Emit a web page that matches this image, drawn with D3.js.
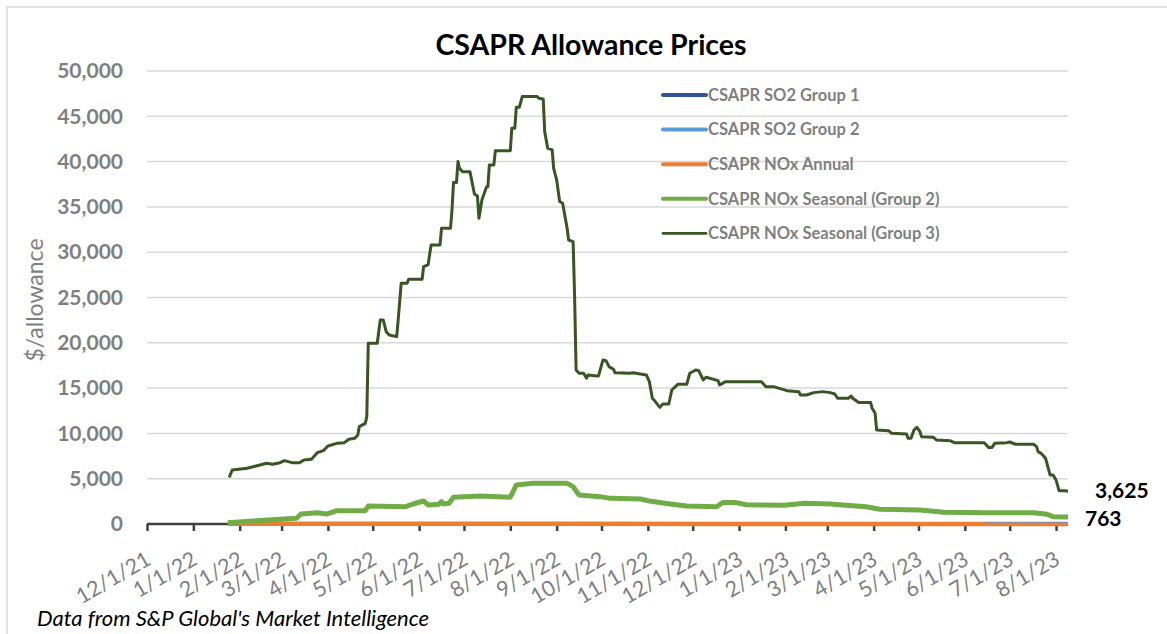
<!DOCTYPE html>
<html>
<head>
<meta charset="utf-8">
<script src="https://cdn.jsdelivr.net/npm/d3@7"></script>
<style>
  html, body { margin: 0; padding: 0; background: #fff; }
  svg { display: block; font-family: Lato, "Open Sans", sans-serif; }
</style>
</head>
<body>
<svg id="chart" width="1167" height="634"></svg>
<script>
// ---------------- DATA ----------------
const title = "CSAPR Allowance Prices";
const yAxisTitle = "$/allowance";
const footnote = "Data from S&P Global's Market Intelligence";
const seriesNames = ["CSAPR SO2 Group 1", "CSAPR SO2 Group 2", "CSAPR NOx Annual",
                     "CSAPR NOx Seasonal (Group 2)", "CSAPR NOx Seasonal (Group 3)"];
const yTicks = [0, 5000, 10000, 15000, 20000, 25000, 30000, 35000, 40000, 45000, 50000];
const xTickLabels = ["12/1/21","1/1/22","2/1/22","3/1/22","4/1/22","5/1/22","6/1/22","7/1/22",
                     "8/1/22","9/1/22","10/1/22","11/1/22","12/1/22","1/1/23","2/1/23","3/1/23",
                     "4/1/23","5/1/23","6/1/23","7/1/23","8/1/23"];
const endLabels = ["3,625", "763"];

// CSAPR SO2 Group 1
const so2g1Dates = ["2023-06-14","2023-07-01","2023-07-20","2023-08-09"];
const so2g1Values = [70, 70, 70, 70];
// CSAPR SO2 Group 2
const so2g2Dates = ["2023-06-14","2023-07-01","2023-07-20","2023-08-09"];
const so2g2Values = [75, 75, 75, 75];
// CSAPR NOx Annual
const noxAnnDates = ["2022-01-24","2022-05-01","2022-09-01","2023-01-01","2023-05-01","2023-08-09"];
const noxAnnValues = [15, 14, 14, 12, 10, 10];
// CSAPR NOx Seasonal (Group 2)
const g2Dates = ["2022-01-24","2022-02-03","2022-02-12","2022-02-28","2022-03-11","2022-03-14","2022-03-25",
  "2022-03-31","2022-04-07","2022-04-26","2022-04-28","2022-05-23","2022-05-28","2022-06-04","2022-06-07",
  "2022-06-14","2022-06-16","2022-06-17","2022-06-21","2022-06-24","2022-07-12","2022-08-01","2022-08-05",
  "2022-08-16","2022-09-08","2022-09-12","2022-09-16","2022-09-30","2022-10-07","2022-10-27","2022-11-02",
  "2022-11-16","2022-11-27","2022-12-17","2022-12-21","2022-12-30","2023-01-06","2023-01-31","2023-02-14",
  "2023-03-03","2023-03-18","2023-03-27","2023-04-05","2023-05-02","2023-05-18","2023-06-16","2023-07-17",
  "2023-07-26","2023-07-30","2023-08-09"];
const g2Values = [150,250,360,520,630,1100,1250,1100,1470,1470,1990,1910,2210,2540,2100,2180,2460,2210,2290,
  2950,3090,2950,4310,4490,4490,4120,3200,3020,2830,2760,2540,2210,1990,1910,2360,2360,2130,2060,2290,2210,
  2020,1910,1620,1550,1290,1250,1250,1070,810,763];
// CSAPR NOx Seasonal (Group 3)
const g3Dates = ["2022-01-25","2022-01-27","2022-02-06","2022-02-12","2022-02-19","2022-02-23","2022-02-28",
  "2022-03-03","2022-03-08","2022-03-13","2022-03-16","2022-03-21","2022-03-25","2022-03-29","2022-04-01",
  "2022-04-07","2022-04-12","2022-04-15","2022-04-19","2022-04-21","2022-04-22","2022-04-26","2022-04-27",
  "2022-04-28","2022-05-04","2022-05-06","2022-05-08","2022-05-10","2022-05-12","2022-05-17","2022-05-18",
  "2022-05-20","2022-05-24","2022-05-25","2022-06-03","2022-06-04","2022-06-07","2022-06-09","2022-06-15",
  "2022-06-16","2022-06-22","2022-06-23","2022-06-24","2022-06-26","2022-06-27","2022-06-28","2022-06-30",
  "2022-07-05","2022-07-08","2022-07-10","2022-07-11","2022-07-13","2022-07-16","2022-07-17","2022-07-18",
  "2022-07-21","2022-07-22","2022-08-01","2022-08-02","2022-08-04","2022-08-05","2022-08-07","2022-08-09",
  "2022-08-19","2022-08-20","2022-08-23","2022-08-24","2022-08-26","2022-08-29","2022-08-30","2022-09-01",
  "2022-09-03","2022-09-05","2022-09-08","2022-09-09","2022-09-12","2022-09-13","2022-09-14","2022-09-16",
  "2022-09-19","2022-09-21","2022-09-22","2022-09-28","2022-09-29","2022-10-02","2022-10-04","2022-10-06",
  "2022-10-09","2022-10-10","2022-10-20","2022-10-22","2022-10-27","2022-10-31","2022-11-02","2022-11-04",
  "2022-11-06","2022-11-09","2022-11-11","2022-11-15","2022-11-17","2022-11-21","2022-11-27","2022-11-29",
  "2022-12-03","2022-12-05","2022-12-08","2022-12-10","2022-12-18","2022-12-19","2022-12-23","2023-01-16",
  "2023-01-19","2023-01-24","2023-02-02","2023-02-10","2023-02-11","2023-02-15","2023-02-20","2023-02-26",
  "2023-03-03","2023-03-06","2023-03-08","2023-03-15","2023-03-17","2023-03-18","2023-03-22","2023-03-30",
  "2023-03-31","2023-04-02","2023-04-03","2023-04-11","2023-04-13","2023-04-23","2023-04-24","2023-04-26",
  "2023-04-28","2023-04-30","2023-05-02","2023-05-03","2023-05-11","2023-05-13","2023-05-22","2023-05-25",
  "2023-06-14","2023-06-17","2023-06-19","2023-06-21","2023-06-29","2023-07-01","2023-07-05","2023-07-17",
  "2023-07-19","2023-07-20","2023-07-22","2023-07-25","2023-07-28","2023-07-30","2023-08-01","2023-08-03",
  "2023-08-07","2023-08-09"];
const g3Values = [5150,5960,6150,6400,6700,6590,6770,6990,6770,6770,7070,7140,7880,8100,8610,8900,8980,9350,
  9460,9830,10750,11110,11850,19950,19950,22520,22520,21230,20870,20680,22520,26570,26570,27020,27020,28410,
  28600,30800,30800,32650,32650,34670,37680,37680,40000,39260,38890,38890,36430,36210,33750,35770,37170,37240,
  39630,39630,41210,41210,43680,43680,46000,46000,47180,47180,47000,46920,43310,41480,41290,39260,37970,35590,
  35400,32650,31350,31170,25090,17000,16640,16640,16090,16450,16340,16340,18110,18030,17370,17080,16700,16640,
  16700,16560,16450,15710,13870,13510,12880,13250,13250,14790,15420,15420,16640,17000,16930,15900,16200,15820,
  15350,15710,15710,15160,15160,14720,14610,14240,14240,14500,14610,14500,14350,13870,13870,14130,13870,13400,
  13400,12770,12220,10380,10300,10010,9940,9460,9460,10380,10670,10190,9640,9570,9270,9200,8980,8980,8430,8430,
  8900,8980,9050,8800,8800,8540,7990,7800,7250,5410,5410,4860,3680,3680,3625];

// ---------------- CHART ----------------
const parse = d3.timeParse("%Y-%m-%d");
const zip = (ds, vs) => ds.map((d, i) => ({ date: parse(d), value: vs[i] }));

const svg = d3.select("#chart");
const W = 1167, H = 634;
const plot = { left: 147, right: 1068, top: 71, bottom: 524 };

// outer border
svg.append("rect").attr("x", 7).attr("y", 7).attr("width", W + 20).attr("height", H + 20)
  .attr("fill", "none").attr("stroke", "#d9d9d9").attr("stroke-width", 1.5);

const x = d3.scaleTime()
  .domain([parse("2021-12-01"), parse("2023-08-09")])
  .range([plot.left, plot.right]);
const y = d3.scaleLinear().domain([0, 50000]).range([plot.bottom, plot.top]);

const grey = "#7f7f7f";

// gridlines
svg.append("g").selectAll("line").data(yTicks.filter(v => v > 0)).join("line")
  .attr("x1", plot.left).attr("x2", plot.right)
  .attr("y1", d => y(d)).attr("y2", d => y(d))
  .attr("stroke", "#d9d9d9").attr("stroke-width", 1.5);

// y axis labels
const yAxis = d3.axisLeft(y).tickValues(yTicks).tickSize(0).tickPadding(24)
  .tickFormat(d3.format(","));
const yG = svg.append("g").attr("transform", `translate(${plot.left},0)`).call(yAxis);
yG.select(".domain").remove();
yG.selectAll("text").attr("font-family", "Lato, sans-serif").attr("font-size", 21)
  .attr("font-weight", "bold").attr("fill", grey);

// x axis
const monthTicks = d3.timeMonth.range(parse("2021-12-01"), parse("2023-08-02"));
const xAxis = d3.axisBottom(x).tickValues(monthTicks).tickSize(7).tickPadding(4)
  .tickFormat((d, i) => xTickLabels[i]);
const xG = svg.append("g").attr("transform", `translate(0,${plot.bottom})`).call(xAxis);
xG.select(".domain").attr("stroke", "#404040").attr("stroke-width", 2.5)
  .attr("d", `M${plot.left},0H${plot.right}`);
xG.selectAll(".tick line").attr("stroke", "#404040").attr("stroke-width", 2.5);
xG.selectAll(".tick text")
  .attr("font-family", "Lato, sans-serif").attr("font-size", 21.5).attr("fill", grey)
  .attr("text-anchor", "end").attr("dy", "0.35em")
  .attr("transform", "translate(1,33) rotate(-30)")
  .attr("y", 0).attr("x", 0);

// lines
const line = d3.line().x(d => x(d.date)).y(d => y(d.value));
const series = [
  { name: seriesNames[2], data: zip(noxAnnDates, noxAnnValues), color: "#ED7D31", w: 4.5 },
  { name: seriesNames[0], data: zip(so2g1Dates, so2g1Values), color: "#2F5597", w: 1.5 },
  { name: seriesNames[1], data: zip(so2g2Dates, so2g2Values), color: "#8E9CC8", w: 1.5 },
  { name: seriesNames[3], data: zip(g2Dates, g2Values), color: "#70AD47", w: 5 },
  { name: seriesNames[4], data: zip(g3Dates, g3Values), color: "#375623", w: 3 }
];
svg.append("g").selectAll("path").data(series).join("path")
  .attr("d", d => line(d.data)).attr("fill", "none")
  .attr("stroke", d => d.color).attr("stroke-width", d => d.w)
  .attr("stroke-linejoin", "round");

// title
svg.append("text").attr("x", 591).attr("y", 55).attr("text-anchor", "middle")
  .attr("font-family", "Lato, sans-serif").attr("font-size", 28.5).attr("font-weight", "bold")
  .attr("fill", "#000").text(title);

// y-axis title
svg.append("text").attr("transform", "translate(43,300) rotate(-90)").attr("text-anchor", "middle")
  .attr("font-family", "Lato, sans-serif").attr("font-size", 23).attr("fill", grey).text(yAxisTitle);

// legend
const legendItems = [
  { name: seriesNames[0], color: "#2F5597", w: 4 },
  { name: seriesNames[1], color: "#5B9BD5", w: 4 },
  { name: seriesNames[2], color: "#ED7D31", w: 4 },
  { name: seriesNames[3], color: "#70AD47", w: 4 },
  { name: seriesNames[4], color: "#375623", w: 2.8 }
];
const lg = svg.append("g").selectAll("g").data(legendItems).join("g")
  .attr("transform", (d, i) => `translate(663,${95 + i * 34.6})`);
lg.append("line").attr("x1", 0).attr("x2", 43).attr("y1", 0).attr("y2", 0)
  .attr("stroke", d => d.color).attr("stroke-width", d => d.w).attr("stroke-linecap", "round");
lg.append("text").attr("x", 45).attr("y", 0).attr("dy", "0.35em")
  .attr("font-family", "Lato, sans-serif").attr("font-size", 16.5).attr("font-weight", "bold")
  .attr("fill", grey).text(d => d.name);

// end labels
svg.append("text").attr("x", 1095).attr("y", 491).attr("dy", "0.35em")
  .attr("font-family", "Lato, sans-serif").attr("font-size", 21).attr("font-weight", "bold")
  .attr("fill", "#000").text(endLabels[0]);
svg.append("text").attr("x", 1085).attr("y", 519).attr("dy", "0.35em")
  .attr("font-family", "Lato, sans-serif").attr("font-size", 21).attr("font-weight", "bold")
  .attr("fill", "#000").text(endLabels[1]);

// footnote
svg.append("text").attr("x", 37).attr("y", 626)
  .attr("font-family", "Lato, sans-serif").attr("font-size", 22).attr("font-style", "italic")
  .attr("fill", "#000").text(footnote);
</script>
</body>
</html>
